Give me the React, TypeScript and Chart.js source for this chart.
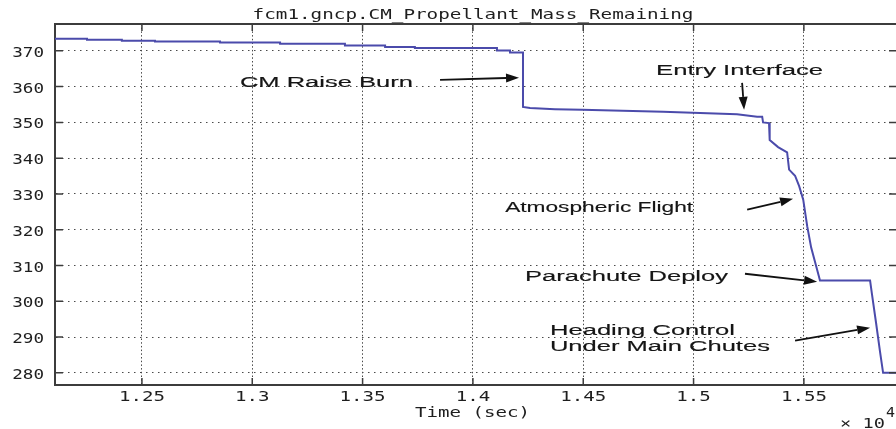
import React, { useEffect, useRef } from "react";
import { Chart, registerables } from "chart.js";

Chart.register(...registerables);

// ---- data (time in units of 1e4 s, propellant mass remaining) ----
const timeE4 = [
  1.2106, 1.2251, 1.2251, 1.2409, 1.2409, 1.2559, 1.2559, 1.2854, 1.2854, 1.3126,
  1.3126, 1.342, 1.342, 1.3602, 1.3602, 1.3737, 1.3737, 1.4109, 1.4109, 1.4168,
  1.4168, 1.4227, 1.4227, 1.4259, 1.4372, 1.4495, 1.4862, 1.5197, 1.5288, 1.5311,
  1.5315, 1.5342, 1.5345, 1.5383, 1.5424, 1.5433, 1.546, 1.5479, 1.5497, 1.5515,
  1.5533, 1.556, 1.5573, 1.58, 1.5809, 1.5827, 1.5845, 1.5859, 1.5922,
];
const propellantMass = [
  373.4, 373.4, 373.1, 373.1, 372.8, 372.8, 372.6, 372.6, 372.3, 372.3,
  372.0, 372.0, 371.5, 371.5, 371.1, 371.1, 370.8, 370.8, 370.1, 370.1,
  369.5, 369.5, 354.3, 354.0, 353.7, 353.5, 353.0, 352.3, 351.6, 351.6,
  350.0, 349.8, 345.1, 343.1, 341.6, 336.8, 335.1, 332.1, 328.4, 321.0,
  315.0, 308.8, 305.8, 305.8, 301.8, 294.0, 285.9, 280.0, 280.0,
];

const xTickValues = [1.25, 1.3, 1.35, 1.4, 1.45, 1.5, 1.55];
const xTickLabels = ["1.25", "1.3", "1.35", "1.4", "1.45", "1.5", "1.55"];
const yTickValues = [280, 290, 300, 310, 320, 330, 340, 350, 360, 370];
const yTickLabels = ["280", "290", "300", "310", "320", "330", "340", "350", "360", "370"];
const xLimits = [1.2106, 1.5922];
const yLimits = [276.6, 377.5];

const titleText = "fcm1.gncp.CM_Propellant_Mass_Remaining";
const xAxisLabel = "Time (sec)";
const xMultiplier = "\u00d7 10";
const xExponent = "4";

// annotation text, anchored (left, baseline) in data coordinates
const noteTexts = [
  "CM Raise Burn",
  "Entry Interface",
  "Atmospheric Flight",
  "Parachute Deploy",
  "Heading Control",
  "Under Main Chutes",
];
const noteT = [1.2944, 1.483, 1.4146, 1.4236, 1.4349, 1.4349];
const noteM = [360.03, 363.3, 325.03, 305.56, 290.67, 286.0];
const noteWidths = [173, 167, 188, 203, 185, 220];

// arrows: tail -> head, data coordinates
const arrowTailT = [1.3851, 1.522, 1.5243, 1.5233, 1.546];
const arrowTailM = [361.9, 361.06, 325.59, 307.7, 289.0];
const arrowHeadT = [1.4209, 1.5229, 1.5451, 1.556, 1.58];
const arrowHeadM = [362.5, 353.52, 328.66, 305.47, 292.63];

// ---- styles ----
const LINE_COLOR = "#4b4bab";
const AXIS_COLOR = "#3c3c3c";
const GRID_COLOR = "#4a4a4a";
const TEXT_COLOR = "#1e1e1e";
const MONO = "14px 'DejaVu Sans Mono', monospace";
const SANS = "15.5px 'Liberation Sans', Arial, sans-serif";
const MONO_CHAR_W = 11.5;

function drawFit(
  ctx: CanvasRenderingContext2D,
  text: string,
  x: number,
  y: number,
  font: string,
  targetW: number,
  align: "left" | "center" | "right",
  stroke = 0
) {
  ctx.save();
  ctx.font = font;
  ctx.textAlign = "left";
  ctx.textBaseline = "alphabetic";
  const w = ctx.measureText(text).width || 1;
  const s = targetW / w;
  const x0 = align === "left" ? x : align === "center" ? x - targetW / 2 : x - targetW;
  ctx.translate(x0, y);
  ctx.scale(s, 1);
  ctx.fillText(text, 0, 0);
  if (stroke > 0) {
    ctx.strokeStyle = ctx.fillStyle as string;
    ctx.lineWidth = stroke;
    ctx.strokeText(text, 0, 0);
  }
  ctx.restore();
}

const overlayPlugin = {
  id: "matlabOverlay",
  afterDraw(chart: any) {
    const { ctx, chartArea: a, scales } = chart;
    const xs = scales.x;
    const ys = scales.y;
    ctx.save();

    // top and right frame
    ctx.strokeStyle = AXIS_COLOR;
    ctx.lineWidth = 2;
    ctx.beginPath();
    ctx.moveTo(a.left - 1, a.top);
    ctx.lineTo(a.right, a.top);
    ctx.lineTo(a.right, a.bottom);
    ctx.stroke();

    // inward tick marks
    ctx.lineWidth = 1.5;
    ctx.beginPath();
    xTickValues.forEach((v) => {
      const px = xs.getPixelForValue(v);
      ctx.moveTo(px, a.bottom);
      ctx.lineTo(px, a.bottom - 7);
      ctx.moveTo(px, a.top);
      ctx.lineTo(px, a.top + 7);
    });
    yTickValues.forEach((v) => {
      const py = ys.getPixelForValue(v);
      ctx.moveTo(a.left, py);
      ctx.lineTo(a.left + 8, py);
      ctx.moveTo(a.right, py);
      ctx.lineTo(a.right - 8, py);
    });
    ctx.stroke();

    // tick labels
    ctx.fillStyle = TEXT_COLOR;
    xTickValues.forEach((v, i) => {
      const px = xs.getPixelForValue(v);
      const lab = xTickLabels[i];
      drawFit(ctx, lab, px, a.bottom + 16, MONO, lab.length * MONO_CHAR_W, "center");
    });
    yTickValues.forEach((v, i) => {
      const py = ys.getPixelForValue(v);
      const lab = yTickLabels[i];
      drawFit(ctx, lab, a.left - 11, py + 6, MONO, lab.length * 10.6, "right");
    });

    // title & axis label
    const cx = (a.left + a.right) / 2;
    drawFit(ctx, titleText, cx - 3, a.top - 5.5, MONO, titleText.length * 11.6, "center");
    drawFit(ctx, xAxisLabel, cx - 3.5, a.bottom + 32, MONO, xAxisLabel.length * MONO_CHAR_W, "center");
    drawFit(ctx, xMultiplier, a.right - 12, a.bottom + 43, MONO, 45, "right");
    drawFit(ctx, xExponent, a.right - 11, a.bottom + 32, MONO, 9, "left");

    // annotations
    ctx.fillStyle = "#151515";
    noteTexts.forEach((t, i) => {
      const px = xs.getPixelForValue(noteT[i]);
      const py = ys.getPixelForValue(noteM[i]);
      drawFit(ctx, t, px, py, SANS, noteWidths[i], "left", 0.15);
    });

    // arrows
    ctx.strokeStyle = "#111";
    ctx.fillStyle = "#111";
    ctx.lineWidth = 1.8;
    arrowTailT.forEach((_, i) => {
      const x1 = xs.getPixelForValue(arrowTailT[i]);
      const y1 = ys.getPixelForValue(arrowTailM[i]);
      const x2 = xs.getPixelForValue(arrowHeadT[i]);
      const y2 = ys.getPixelForValue(arrowHeadM[i]);
      const ang = Math.atan2(y2 - y1, x2 - x1);
      const L = 13;
      const W = 4.5;
      const bx = x2 - L * Math.cos(ang);
      const by = y2 - L * Math.sin(ang);
      ctx.beginPath();
      ctx.moveTo(x1, y1);
      ctx.lineTo(bx, by);
      ctx.stroke();
      ctx.beginPath();
      ctx.moveTo(x2, y2);
      ctx.lineTo(bx + W * Math.sin(ang), by - W * Math.cos(ang));
      ctx.lineTo(bx - W * Math.sin(ang), by + W * Math.cos(ang));
      ctx.closePath();
      ctx.fill();
    });

    ctx.restore();
  },
};

export default function App() {
  const canvasRef = useRef<HTMLCanvasElement | null>(null);

  useEffect(() => {
    const canvas = canvasRef.current;
    if (!canvas) return;
    const points = timeE4.map((t, i) => ({ x: t, y: propellantMass[i] }));
    const chart = new Chart(canvas, {
      type: "line",
      data: {
        datasets: [
          {
            data: points,
            borderColor: LINE_COLOR,
            borderWidth: 2,
            pointRadius: 0,
            tension: 0,
            fill: false,
          },
        ],
      },
      options: {
        responsive: false,
        devicePixelRatio: 1,
        animation: false,
        layout: { padding: { left: 55, top: 24, right: 3, bottom: 44 } },
        plugins: {
          legend: { display: false },
          tooltip: { enabled: false },
          title: { display: false },
        },
        scales: {
          x: {
            type: "linear",
            min: xLimits[0],
            max: xLimits[1],
            afterBuildTicks: (scale: any) => {
              scale.ticks = xTickValues.map((v) => ({ value: v }));
            },
            ticks: { display: false },
            grid: { color: GRID_COLOR, lineWidth: 1, drawTicks: false },
            border: { display: true, color: AXIS_COLOR, width: 2, dash: [1.5, 2.2] },
          },
          y: {
            type: "linear",
            min: yLimits[0],
            max: yLimits[1],
            afterBuildTicks: (scale: any) => {
              scale.ticks = yTickValues.map((v) => ({ value: v }));
            },
            ticks: { display: false },
            grid: { color: GRID_COLOR, lineWidth: 1, drawTicks: false },
            border: { display: true, color: AXIS_COLOR, width: 2, dash: [1.5, 4.5] },
          },
        },
      },
      plugins: [overlayPlugin],
    });
    return () => chart.destroy();
  }, []);

  return (
    <div
      style={{
        position: "fixed",
        left: 0,
        top: 0,
        width: 896,
        height: 429,
        overflow: "hidden",
        background: "#fff",
      }}
    >
      <canvas ref={canvasRef} width={900} height={429} style={{ display: "block" }} />
    </div>
  );
}
